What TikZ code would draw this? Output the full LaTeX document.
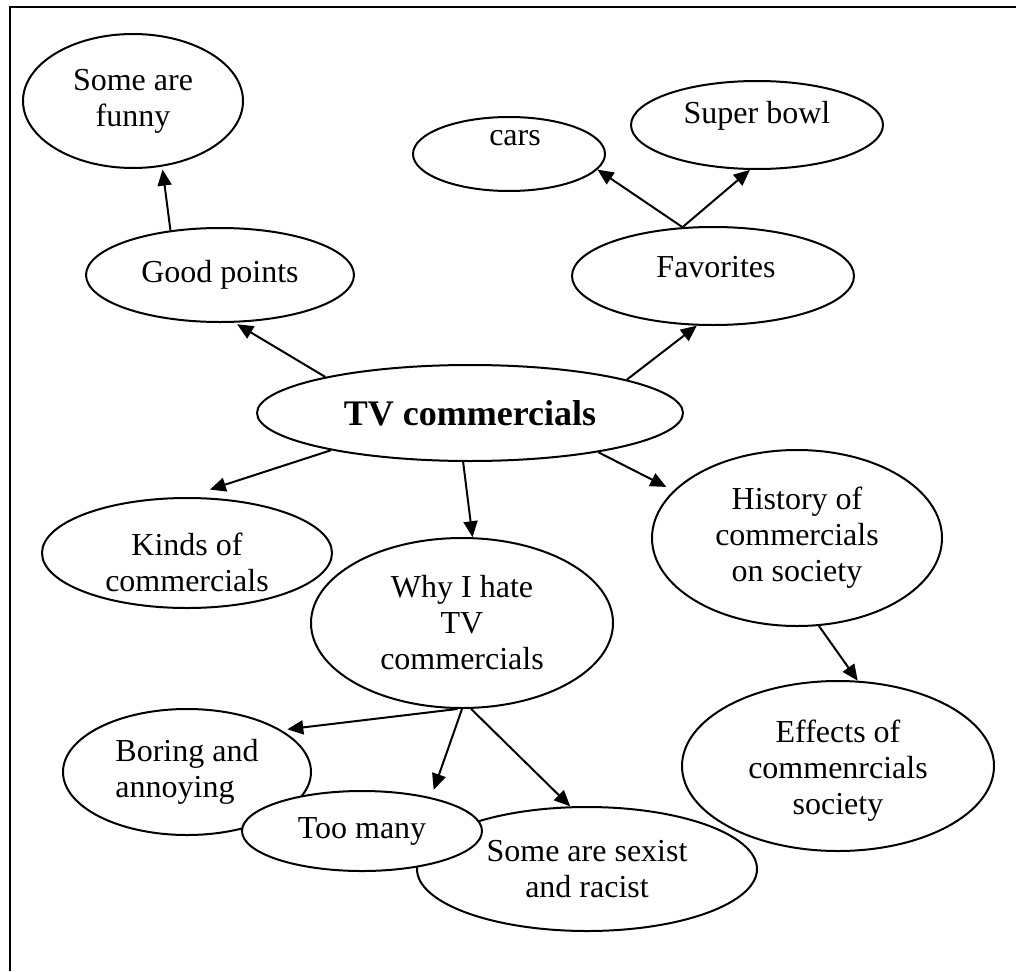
\documentclass[tikz,border=0pt]{standalone}
\usepackage{fontspec}
\setmainfont{Liberation Serif}
\usetikzlibrary{shapes.geometric, arrows.meta}

\begin{document}
\begin{tikzpicture}[x=1pt, y=-1pt,
  bubble/.style={draw, ellipse, fill=white, line width=2pt, inner sep=0pt, align=center, font=\fontsize{32}{36}\selectfont},
  txt/.style={inner sep=0pt, align=center, font=\fontsize{32}{36}\selectfont},
  arr/.style={-{Triangle[length=16pt, width=14pt]}, line width=2pt}]

  \useasboundingbox (0,0) rectangle (1016,971);

  % page frame (only top and left edge show)
  \draw[line width=2.6pt] (1016,7) -- (10,7) -- (10,971);

  % top row
  \node[bubble, minimum width=220pt, minimum height=134pt] (funny) at (133,101) {Some are\\funny};
  \node[bubble, minimum width=268pt, minimum height=94pt] (good) at (220,275) {Good points};
  \node[bubble, minimum width=192pt, minimum height=74pt] (cars) at (509,154) {};
  \node[txt] (cars-t) at (515,138) {cars};
  \node[bubble, minimum width=252pt, minimum height=88pt] (bowl) at (757,125) {};
  \node[txt] (bowl-t) at (757,116) {Super bowl};
  \node[bubble, minimum width=282pt, minimum height=98pt] (fav) at (713,276) {};
  \node[txt] (fav-t) at (716,267) {Favorites};

  % main topic
  \node[bubble, minimum width=426pt, minimum height=96pt, font=\bfseries\fontsize{36}{40}\selectfont] (tv) at (470,413) {TV commercials};

  % middle row
  \node[bubble, minimum width=290pt, minimum height=110pt] (kinds) at (187,553) {};
  \node[txt] (kinds-t) at (187,562) {Kinds of\\commercials};
  \node[bubble, minimum width=302pt, minimum height=170pt] (why) at (462,623) {Why I hate\\TV\\commercials};
  \node[bubble, minimum width=290pt, minimum height=176pt] (hist) at (797,538) {History of\\commercials\\on society};
  \node[bubble, minimum width=312pt, minimum height=170pt] (eff) at (838,766) {};
  \node[txt] (eff-t) at (838,771) {Effects of\\commenrcials\\society};

  % bottom row
  \node[bubble, minimum width=248pt, minimum height=126pt, align=left] (boring) at (187,772) {Boring and\\annoying};
  \node[bubble, minimum width=340pt, minimum height=124pt] (sexist) at (587,869) {Some are sexist\\and racist};
  \node[bubble, minimum width=240pt, minimum height=80pt] (many) at (362,831) {Too many};

  % arrows
  \draw[arr, shorten >=3pt] (good.138) -- (funny.-66);
  \draw[arr, shorten >=3pt] (tv.166) -- (good.-73);
  \draw[arr] (tv.12) -- (fav.-108);
  \draw[arr] (fav.122) -- (cars.-10);
  \draw[arr] (fav.122) -- (bowl.-99);
  \draw[arr, shorten >=24pt] (tv.-165) -- (kinds.north);
  \draw[arr] (tv.-98) -- (why.83);
  \draw[arr, shorten >=8pt] (tv.-17) -- (hist.159);
  \draw[arr] (hist.-76) -- (eff.77);
  \draw[arr, shorten >=6pt] (why.-93) -- (boring.24);
  \draw[arr, shorten >=8pt] (why.-90) -- (many.26);
  \draw[arr] (why.-84) -- (sexist.105);
\end{tikzpicture}
\end{document}
